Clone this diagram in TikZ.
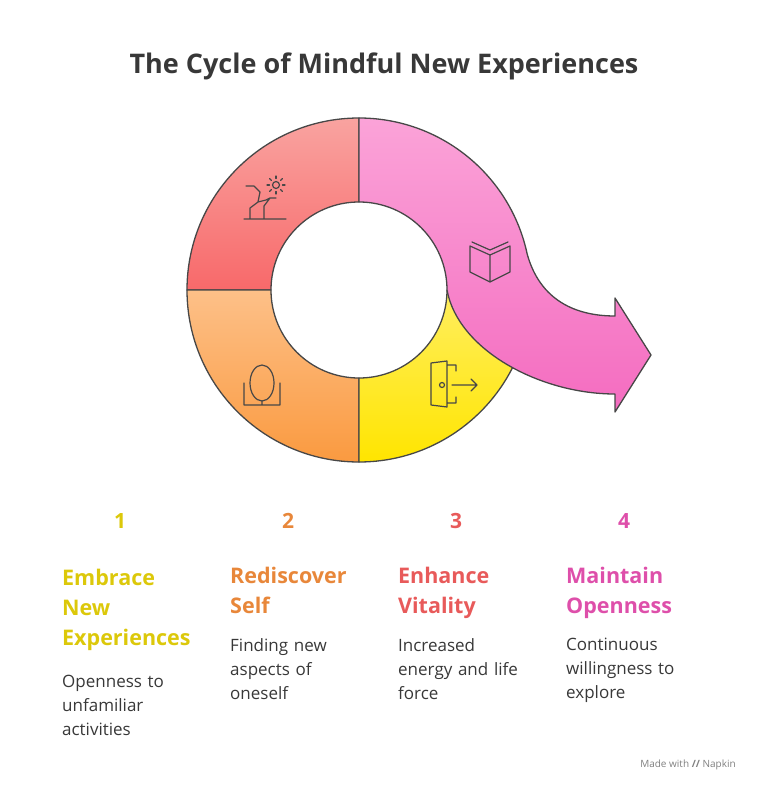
\documentclass[tikz,border=0pt]{standalone}
\usepackage{fontspec}
\setmainfont{Open Sans}
\usetikzlibrary{calc}
\begin{document}
\begin{tikzpicture}[x=1pt,y=-1pt,
  seg/.style={draw=black!72,line width=1.3pt,line join=round},
  ico/.style={draw=black!72,line width=1.2pt,line cap=round,line join=round},
  num/.style={font=\bfseries\fontsize{21}{24}\selectfont},
  head/.style={anchor=north west,align=left,text width=160pt,inner sep=0pt,font=\bfseries\fontsize{21.5}{30}\selectfont},
  desc/.style={anchor=north west,align=left,text width=160pt,inner sep=0pt,text=black!78,font=\fontsize{17}{24}\selectfont}]
\definecolor{cy}{HTML}{DCC80A}\definecolor{co}{HTML}{E8873A}
\definecolor{cr}{HTML}{E85A5A}\definecolor{cp}{HTML}{DE4FAA}
\definecolor{r1}{HTML}{F9A3A0}\definecolor{r2}{HTML}{F8696A}
\definecolor{o1}{HTML}{FDC088}\definecolor{o2}{HTML}{FA9A40}
\definecolor{y1}{HTML}{FFEE60}\definecolor{y2}{HTML}{FFE500}
\definecolor{p1}{HTML}{FBA3D8}\definecolor{p2}{HTML}{F46CC0}
\useasboundingbox (0,0) rectangle (768,792);
% red
\path[seg,top color=r1,bottom color=r2] (187,290) arc[start angle=180,end angle=270,radius=172] -- (359,202) arc[start angle=270,end angle=180,radius=88] -- cycle;
% orange
\path[seg,top color=o1,bottom color=o2] (359,462) arc[start angle=90,end angle=180,radius=172] -- (271,290) arc[start angle=180,end angle=90,radius=88] -- cycle;
% yellow
\path[seg,top color=y1,bottom color=y2] (531,290) arc[start angle=0,end angle=90,radius=172] -- (359,378) arc[start angle=90,end angle=0,radius=88] -- cycle;
% pink arrow
\path[seg,top color=p1,bottom color=p2] (359,118) arc[start angle=270,end angle=348,radius=172]
  .. controls (540,300) and (575,316) .. (615,316) -- (615,298) -- (651,355) -- (615,412) -- (615,394)
  .. controls (540,394) and (458,350) .. (447,290) arc[start angle=360,end angle=270,radius=88] -- cycle;
% icons
\draw[ico] (244,219) -- (286,219) (250,219) -- (250,208) -- (258,202) -- (260,192) -- (254,186) -- (246,186)
  (264,219) -- (264,206) -- (270,198) -- (276,198) (258,202)--(266,200)--(270,198);
\draw[ico] (276,185) circle (3.5);
\foreach \a in {0,45,...,315} \draw[ico] ($(276,185)+(\a:6.5)$) -- ($(276,185)+(\a:9)$);
\draw[ico] (262,383) ellipse (12 and 18) (244,383) -- (244,405) (280,383) -- (280,405) (244,405) -- (280,405) (262,401) -- (262,405);
\draw[ico] (470,246) -- (490,255) -- (510,246) -- (510,272) -- (490,282) -- (470,272) -- cycle (490,255) -- (490,282) (472,242) -- (490,250) -- (508,242);
\draw[ico] (431,363) -- (447,361) -- (447,407) -- (431,405) -- cycle (447,365) -- (456,365) -- (456,371) (447,403) -- (456,403) -- (456,397) (452,385) -- (477,385) (471,379) -- (477,385) -- (471,391);
\draw[ico] (442,385) circle (2.5);
% title
\node[font=\bfseries\fontsize{27}{30}\selectfont,text=black!78] (t) at (384,66) {The Cycle of Mindful New Experiences};
% columns
\node[num,text=cy] (n1) at (120,521) {1};
\node[num,text=co] (n2) at (288,521) {2};
\node[num,text=cr] (n3) at (456,521) {3};
\node[num,text=cp] (n4) at (624,521) {4};
\node[head,text=cy] (h1) at (62,569) {Embrace\\New\\Experiences};
\node[head,text=co] (h2) at (230,567) {Rediscover\\Self};
\node[head,text=cr] (h3) at (398,567) {Enhance\\Vitality};
\node[head,text=cp] (h4) at (566,567) {Maintain\\Openness};
\node[desc] (d1) at (62,675) {Openness to\\unfamiliar\\activities};
\node[desc] (d2) at (230,638) {Finding new\\aspects of\\oneself};
\node[desc] (d3) at (398,638) {Increased\\energy and life\\force};
\node[desc] (d4) at (566,638) {Continuous\\willingness to\\explore};
\node[font=\fontsize{10}{13}\selectfont,text=black!50] (mw) at (688,765) {Made with \textbf{//} Napkin};
\end{tikzpicture}
\end{document}
